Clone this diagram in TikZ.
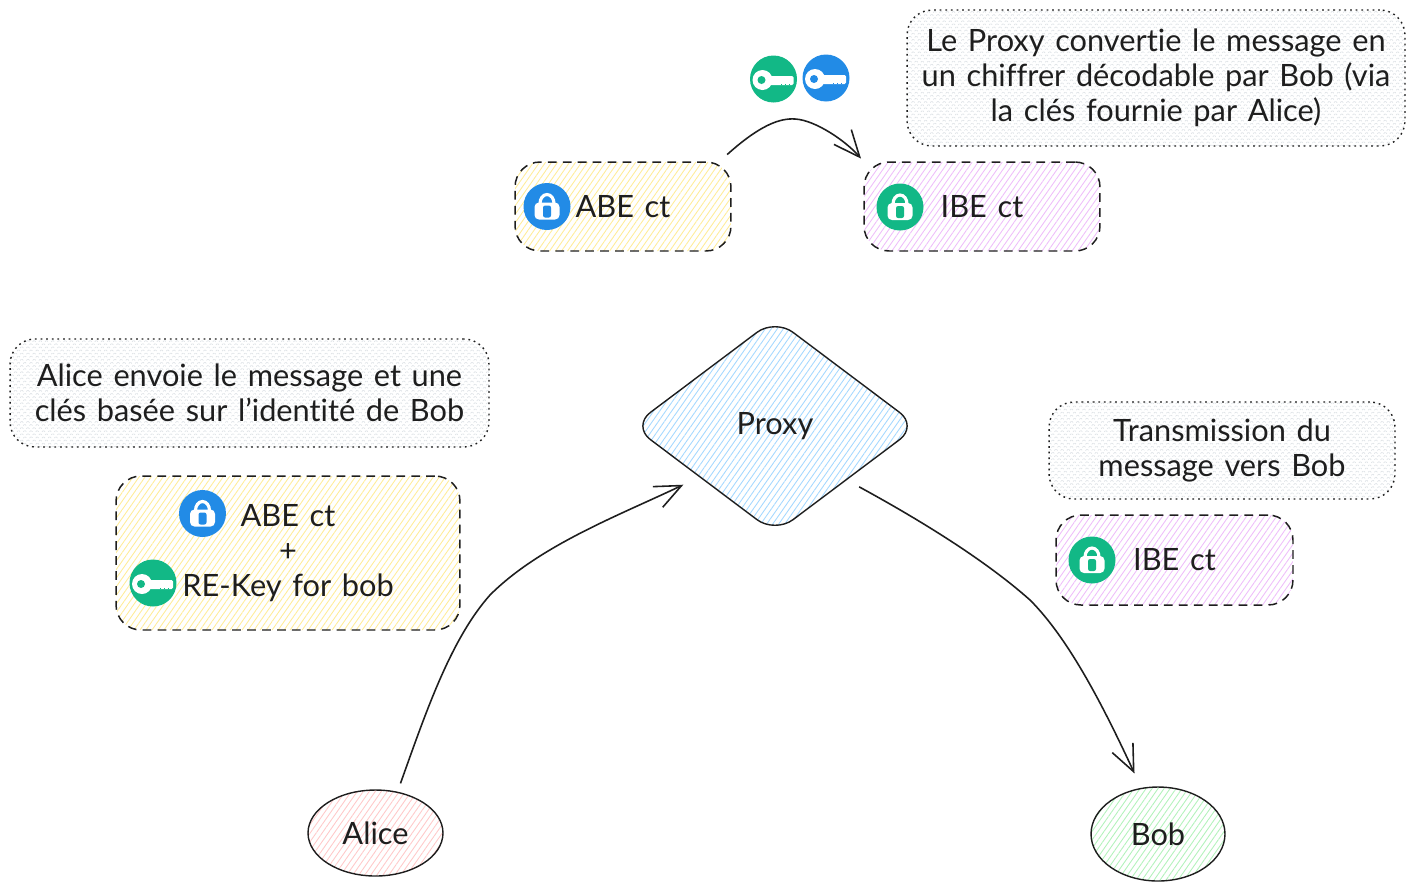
\documentclass[tikz,border=0pt]{standalone}
\usepackage{fontspec}
\setmainfont[Ligatures=NoCommon,WordSpace=1.35]{Lato}
\usetikzlibrary{arrows.meta,patterns.meta,shapes.geometric}
\definecolor{inkblack}{HTML}{1E1E1E}
\definecolor{iconblue}{HTML}{228BE6}
\definecolor{icongreen}{HTML}{12B886}
\definecolor{hatchyellow}{HTML}{FFEC99}
\definecolor{hatchpurple}{HTML}{EEBEFA}
\definecolor{hatchgray}{HTML}{DEE2E6}
\definecolor{hatchblue}{HTML}{A5D8FF}
\definecolor{hatchpink}{HTML}{FFC9C9}
\definecolor{hatchgreen}{HTML}{B2F2BB}
\tikzset{
  sketchtext/.style={text=inkblack,align=center,inner sep=0pt,
    font=\fontsize{17.5}{19.9}\selectfont},
  hatched/.style={pattern={Lines[angle=55,distance=2.8pt,line width=0.5pt]},pattern color=#1},
  cipherbox/.style={sketchtext,draw=inkblack,line width=0.85pt,rounded corners=0.5cm,
    dash pattern=on 5pt off 3.5pt,hatched=#1},
  notebox/.style={sketchtext,draw=inkblack,line width=0.8pt,rounded corners=0.5cm,
    dash pattern=on 1pt off 2.2pt,
    pattern={Hatch[angle=45,distance=2.5pt,line width=0.4pt]},pattern color=hatchgray},
  actor/.style={sketchtext,ellipse,draw=inkblack,line width=0.8pt,hatched=#1},
  flow/.style={draw=inkblack,line width=0.9pt,-{Straight Barb[length=15pt,width=13pt]}},
  icondisc/.style={circle,inner sep=0pt,minimum size=0.94cm},
  pics/lockicon/.style={code={
    \node[icondisc,fill=#1] (-disc) {};
    \draw[white,line width=1.8pt] (-7,-3) arc (180:360:7 and 9);
    \fill[white,rounded corners=2.5pt] (-12.5,-4) rectangle (12.5,13);
    \fill[#1,rounded corners=1.2pt] (-4,-1) rectangle (4,11);
  }},
  pics/keyicon/.style={code={
    \node[icondisc,fill=#1] (-disc) {};
    \fill[white] (-11,1) circle (10);
    \fill[white,rounded corners=0.8pt] (-4,-3) rectangle (20,6);
    \fill[#1] (-12,1) circle (4);
    \foreach \tooth in {7,11,15}
      \fill[#1] (\tooth,4.8) rectangle ++(1.2,1.4);
  }},
}
\begin{document}
\begin{tikzpicture}[x=0.02cm,y=-0.02cm]
  \useasboundingbox (0,0) rectangle (1415,890);

  % notes
  \node[notebox,minimum width=9.96cm,minimum height=2.72cm] (noteproxy) at (1156,78)
    {Le Proxy convertie le message en\\un chiffrer décodable par Bob (via\\la clés fournie par Alice)};
  \node[notebox,minimum width=9.58cm,minimum height=2.16cm] (notealice) at (249.5,393)
    {Alice envoie le message et une\\clés basée sur l'identité de Bob};
  \node[notebox,minimum width=6.92cm,minimum height=1.94cm] (notebob) at (1222,450.5)
    {Transmission du\\message vers Bob};

  % ciphertexts
  \node[cipherbox=hatchyellow,minimum width=4.32cm,minimum height=1.78cm] (abebox) at (623,206.5) {ABE ct};
  \node[cipherbox=hatchpurple,minimum width=4.72cm,minimum height=1.78cm] (ibebox) at (982,206.5) {IBE ct};
  \node[cipherbox=hatchyellow,minimum width=6.88cm,minimum height=3.08cm] (rekeybox) at (288,553)
    {ABE ct\\+\\RE-Key for bob};
  \node[cipherbox=hatchpurple,minimum width=4.74cm,minimum height=1.80cm] (ibesent) at (1174.5,560) {IBE ct};

  % actors
  \node[sketchtext,diamond,draw=inkblack,line width=0.8pt,hatched=hatchblue,rounded corners=0.45cm,
    shape aspect=1.33,minimum width=5.72cm,minimum height=4.3cm] (proxy) at (775,426) {Proxy};
  \node[actor=hatchpink,minimum width=2.7cm,minimum height=1.72cm] (alice) at (375.5,833) {Alice};
  \node[actor=hatchgreen,minimum width=2.68cm,minimum height=1.88cm] (bob) at (1158,834) {Bob};

  % icons
  \foreach \name/\x/\y/\col in {lockabe/547/206.5/iconblue,lockibe/900/207/icongreen,
    lockrekey/202.5/513.5/iconblue,locksent/1092/560/icongreen}
  {
    \pic (\name) at (\x,\y) {lockicon=\col};
  }
  \foreach \name/\x/\y/\col in {keygreen/773.5/79/icongreen,keyblue/826/78/iconblue,
    keyrekey/153/583/icongreen}
  {
    \pic (\name) at (\x,\y) {keyicon=\col};
  }

  % arrows
  \draw[flow,shorten <=5pt,shorten >=10pt] (alice.62) .. controls (425,715) and (450,640) .. (490,595)
    .. controls (540,545) and (620,515) .. (proxy.214);
  \draw[flow,shorten <=8pt,shorten >=9pt] (proxy.323) .. controls (920,520) and (985,560) .. (1030,600)
    .. controls (1070,640) and (1105,710) .. (bob.110);
  \draw[flow,shorten <=6pt,shorten >=2pt] (abebox.25) .. controls (760,125) and (780,118) .. (795,119)
    .. controls (815,120) and (846,141) .. (ibebox.north west);
\end{tikzpicture}
\end{document}
